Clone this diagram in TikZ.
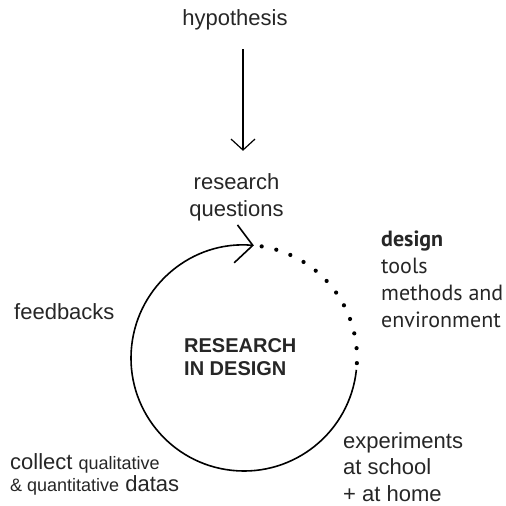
\documentclass[tikz,border=0pt]{standalone}
\usepackage{fontspec}
\setmainfont{Liberation Sans}
\newfontfamily\myriad{PT Sans}
\usetikzlibrary{arrows.meta}
\newcommand{\txt}{\fontsize{22}{27}\selectfont}
\newcommand{\qsize}[1]{{\fontsize{18}{22}\selectfont #1}}

\begin{document}
\begin{tikzpicture}[x=1pt,y=1pt,
    lbl/.style={inner sep=0pt,text=black!85,font=\txt},
    cycle/.style={line width=1.6pt,-{Straight Barb[length=17pt,width=38pt]}},
    down/.style={line width=1.2pt,-{Straight Barb[length=11pt,width=24pt]}}]
  \useasboundingbox (0,0) rectangle (506,-506);
  \node[lbl] (hyp) at (235,-20) {hypothesis};
  \node[lbl,align=center] (rq) at (236.5,-197.5) {research\\questions};
  \node[lbl,anchor=west] (fb) at (14,-312) {feedbacks};
  \node[lbl,align=left,anchor=west,font=\bfseries\fontsize{20}{23}\selectfont] (rid) at (184,-357.5) {RESEARCH\\IN DESIGN};
  \node[lbl,align=left,anchor=north west,font=\myriad\txt] (des) at (381,-231) {\textbf{design}\\tools\\methods and\\environment};
  \node[lbl,align=left,anchor=north west,font=\fontsize{22}{26.5}\selectfont] (exp) at (343,-432) {experiments\\at school\\+ at home};
  \node[lbl,align=left,anchor=north west,font=\fontsize{22}{22}\selectfont] (col) at (10,-453) {collect \qsize{qualitative}\\\qsize{\& quantitative} datas};
  \draw[down] ([xshift=8pt,yshift=-18.7pt]hyp.south) -- ([xshift=6.5pt,yshift=22.7pt]rq.north);
  % the loop, open at the right where the dots run
  \coordinate (c) at (244,-358);
  \draw[cycle] (c) ++(-6:113) arc[start angle=-6,end angle=-275,radius=113];
  \foreach \a in {0,...,11}
    \fill (c) ++(81-7.6*\a:113) circle (2.1pt);
\end{tikzpicture}
\end{document}
